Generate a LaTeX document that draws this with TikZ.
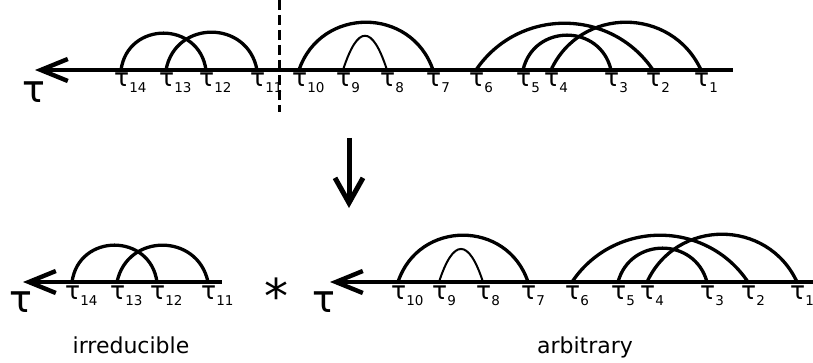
\documentclass[tikz,border=0pt]{standalone}
\usepackage{fontspec}
\setmainfont{DejaVu Sans}
\usetikzlibrary{arrows.meta}
\tikzset{x=1pt,y=1pt}
\def\tl#1{τ\raisebox{-6pt}{\fontsize{13.5}{13.5}\selectfont #1}}

\begin{document}
\begin{tikzpicture}[
    axis/.style={line width=4.6pt,{Straight Barb[length=27pt,width=22pt,line width=4.4pt]}-},
    chord/.style={line width=3.3pt},
    thinchord/.style={line width=2pt},
    tick/.style={inner sep=0pt,anchor=base west,xshift=-7pt,yshift=-17pt,font=\fontsize{25}{25}\selectfont},
    bigtau/.style={inner sep=0pt,font=\fontsize{38}{38}\selectfont},
    caption/.style={inner sep=0pt,anchor=base,font=\fontsize{22}{22}\selectfont}]
\useasboundingbox (0,0) rectangle (813,362);

    % top row
    \coordinate (aL) at (35,292);
    \coordinate (aR) at (733,292);
    \foreach \n/\x in {14/121,13/166,12/206,11/257,10/299,9/343,8/387,7/433,
                       6/476,5/523,4/551,3/611,2/653,1/701}
      \coordinate (a\n) at (\x,292);
    \draw[axis] (aL) -- (aR);
    \foreach \n in {1,...,14}
      \node[tick] (la\n) at (a\n) {\tl{\n}};
    \node[bigtau] (ta) at (34,270) {τ};
    \draw[chord] (a14) to[bend left=82.1,looseness=1.497] (a12);
    \draw[chord] (a13) to[bend left=79.7,looseness=1.445] (a11);
    \draw[chord] (a10) to[bend left=71.2,looseness=1.288] (a7);
    \draw[thinchord] (a9) to[bend left=72,looseness=2.8] (a8);
    \draw[chord] (a6) to[bend left=55.9,looseness=1.091] (a2);
    \draw[chord] (a5) to[bend left=77.0,looseness=1.390] (a3);
    \draw[chord] (a4) to[bend left=65.2,looseness=1.200] (a1);
    % cut
    \coordinate (cut1) at (279,362);
    \coordinate (cut2) at (279,250);
    \draw[line width=3pt,dash pattern=on 10pt off 5pt] (cut1) -- (cut2);

    % down arrow
    \coordinate (dtop) at (349,224);
    \coordinate (dbot) at (349,154);
    \draw[line width=5pt,-{Straight Barb[length=25pt,width=28pt,line width=5pt]}] (dtop) -- (dbot);

    % bottom left: irreducible part
    \coordinate (bL) at (23,80);
    \coordinate (bR) at (222,80);
    \foreach \n/\x in {14/72,13/117,12/157,11/208}
      \coordinate (b\n) at (\x,80);
    \draw[axis] (bL) -- (bR);
    \foreach \n in {11,...,14}
      \node[tick] (lb\n) at (b\n) {\tl{\n}};
    \node[bigtau] (tb) at (21,60) {τ};
    \draw[chord] (b14) to[bend left=82.1,looseness=1.497] (b12);
    \draw[chord] (b13) to[bend left=78.2,looseness=1.414] (b11);
    \node[caption] (irr) at (131,9) {irreducible};

    \node[inner sep=0pt,anchor=base,font=\fontsize{48}{48}\selectfont] (star) at (276,49) {*};

    % bottom right: arbitrary part
    \coordinate (cL) at (330,80);
    \coordinate (cR) at (813,80);
    \foreach \n/\x in {10/398,9/439,8/483,7/528,6/572,5/618,4/647,3/707,2/748,1/797}
      \coordinate (c\n) at (\x,80);
    \draw[axis] (cL) -- (cR);
    \foreach \n in {1,...,10}
      \node[tick] (lc\n) at (c\n) {\tl{\n}};
    \node[bigtau] (tc) at (324,60) {τ};
    \draw[chord] (c10) to[bend left=71.7,looseness=1.297] (c7);
    \draw[thinchord] (c9) to[bend left=72,looseness=2.7] (c8);
    \draw[chord] (c6) to[bend left=56.2,looseness=1.094] (c2);
    \draw[chord] (c5) to[bend left=74.8,looseness=1.348] (c3);
    \draw[chord] (c4) to[bend left=65.2,looseness=1.200] (c1);
    \node[caption] (arb) at (585,9) {arbitrary};
\end{tikzpicture}
\end{document}
